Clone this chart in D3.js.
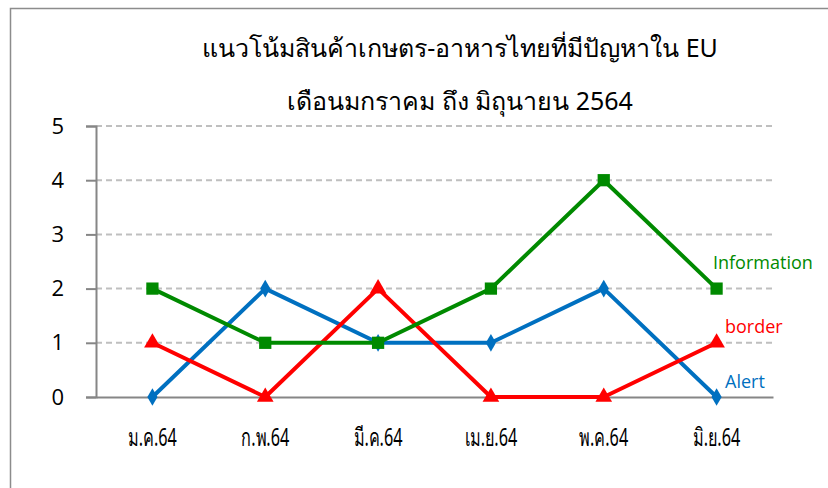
<!DOCTYPE html>
<html>
<head>
<meta charset="utf-8">
<script src="https://cdn.jsdelivr.net/npm/d3@7"></script>
<style>
body { margin:0; background:#fff; }
text { font-family: "Noto Sans", "DejaVu Sans", sans-serif; }
</style>
</head>
<body>
<script>
var months = ["ม.ค.64", "ก.พ.64", "มี.ค.64", "เม.ย.64", "พ.ค.64", "มิ.ย.64"];
var alertVals = [0, 2, 1, 1, 2, 0];
var borderVals = [1, 0, 2, 0, 0, 1];
var infoVals = [2, 1, 1, 2, 4, 2];
var yTicks = [0, 1, 2, 3, 4, 5];
var titleLines = ["แนวโน้มสินค้าเกษตร-อาหารไทยที่มีปัญหาใน EU", "เดือนมกราคม ถึง มิถุนายน 2564"];

var width = 828, height = 488;
var svg = d3.select("body").append("svg").attr("width", width).attr("height", height);

// chart frame
svg.append("rect").attr("x", 10.5).attr("y", 8.5).attr("width", 840).attr("height", 500)
	.attr("fill", "#fff").attr("stroke", "#8c8c8c").attr("stroke-width", 1.5);

var x = d3.scaleBand().domain(months).range([96, 773]);
var y = d3.scaleLinear().domain([0, 5]).range([397, 126]);

// title
svg.selectAll(".title").data(titleLines).enter().append("text")
	.attr("x", 460).attr("y", function(d, i){ return 57 + i * 53; })
	.attr("text-anchor", "middle").attr("font-size", 25).attr("fill", "#000")
	.text(function(d){ return d; });

// gridlines
svg.append("g").selectAll("line").data(yTicks.filter(function(d){ return d > 0; })).enter().append("line")
	.attr("x1", 96).attr("x2", 773)
	.attr("y1", function(d){ return y(d); }).attr("y2", function(d){ return y(d); })
	.attr("stroke", "#bfbfbf").attr("stroke-width", 2).attr("stroke-dasharray", "6,4");

// y axis
var yAxis = svg.append("g").attr("transform", "translate(96,0)")
	.call(d3.axisLeft(y).tickValues(yTicks).tickSize(10).tickPadding(22).tickFormat(d3.format("d")));
yAxis.select(".domain").attr("stroke", "#868686").attr("stroke-width", 2);
yAxis.selectAll(".tick line").attr("stroke", "#868686").attr("stroke-width", 2);
yAxis.selectAll(".tick text").attr("font-size", 22).attr("fill", "#000")
	.style("font-family", "'Open Sans', sans-serif");

// x axis
var xAxis = svg.append("g").attr("transform", "translate(0,397)")
	.call(d3.axisBottom(x).tickSize(0).tickPadding(31));
xAxis.select(".domain").attr("stroke", "#868686").attr("stroke-width", 2);
xAxis.selectAll(".tick text").attr("font-size", 25).attr("fill", "#000")
	.attr("transform", "scale(0.65,1)"); // narrow thai face like the original

var series = [
	{ name: "Information", values: infoVals, color: "#008a00", shape: d3.symbolSquare, size: 150, lx: 713, ly: 269 },
	{ name: "border", values: borderVals, color: "#ff0000", shape: d3.symbolTriangle, size: 120, lx: 725, ly: 333 },
	{ name: "Alert", values: alertVals, color: "#0070c0", shape: d3.symbolDiamond, size: 90, lx: 725, ly: 388 }
];
var line = d3.line()
	.x(function(d, i){ return x(months[i]) + x.bandwidth() / 2; })
	.y(function(d){ return y(d); });

series.slice().reverse().forEach(function(s){
	var g = svg.append("g");
	g.append("path").datum(s.values).attr("d", line)
		.attr("fill", "none").attr("stroke", s.color).attr("stroke-width", 4).attr("stroke-linejoin", "round");
	g.selectAll("path.m").data(s.values).enter().append("path").attr("class", "m")
		.attr("d", d3.symbol().type(s.shape).size(s.size))
		.attr("transform", function(d, i){ return "translate(" + (x(months[i]) + x.bandwidth() / 2) + "," + y(d) + ")"; })
		.attr("fill", s.color);
	g.append("text").attr("x", s.lx).attr("y", s.ly).attr("font-size", 18).attr("fill", s.color)
		.style("font-family", "'Open Sans', sans-serif").text(s.name);
});
</script>
</body>
</html>
